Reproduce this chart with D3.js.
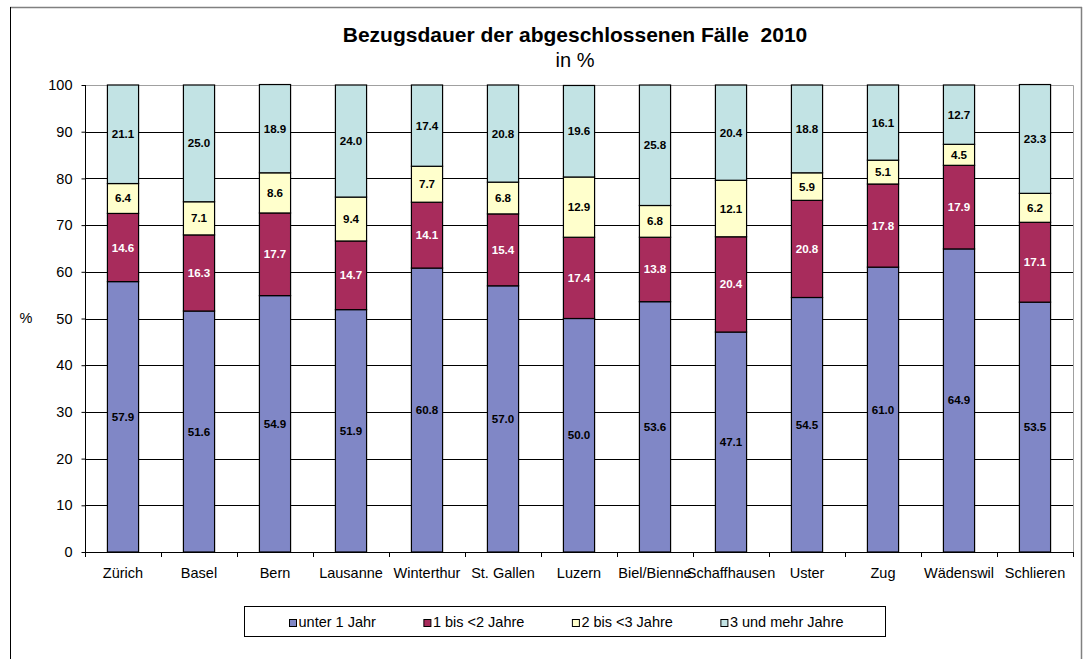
<!DOCTYPE html>
<html>
<head>
<meta charset="utf-8">
<script src="https://cdn.jsdelivr.net/npm/d3@7"></script>
<style>
body { margin: 0; background: #fff; }
svg { font-family: "Liberation Sans", Arial, sans-serif; }
</style>
</head>
<body>
<div id="chart"></div>
<script>
var cities = ["Zürich", "Basel", "Bern", "Lausanne", "Winterthur", "St. Gallen", "Luzern", "Biel/Bienne", "Schaffhausen", "Uster", "Zug", "Wädenswil", "Schlieren"];
var unter1 = [57.9, 51.6, 54.9, 51.9, 60.8, 57.0, 50.0, 53.6, 47.1, 54.5, 61.0, 64.9, 53.5];
var bis2 = [14.6, 16.3, 17.7, 14.7, 14.1, 15.4, 17.4, 13.8, 20.4, 20.8, 17.8, 17.9, 17.1];
var bis3 = [6.4, 7.1, 8.6, 9.4, 7.7, 6.8, 12.9, 6.8, 12.1, 5.9, 5.1, 4.5, 6.2];
var mehr3 = [21.1, 25.0, 18.9, 24.0, 17.4, 20.8, 19.6, 25.8, 20.4, 18.8, 16.1, 12.7, 23.3];
var seriesNames = ["unter 1 Jahr", "1 bis <2 Jahre", "2 bis <3 Jahre", "3 und mehr Jahre"];
var colors = ["#8087c6", "#a82c5c", "#ffffcc", "#c2e3e4"];
var textColors = ["#000", "#fff", "#000", "#000"];
var yTicks = [0, 10, 20, 30, 40, 50, 60, 70, 80, 90, 100];

var w = 1088, h = 659;
var svg = d3.select("#chart").append("svg").attr("width", w).attr("height", h);

// outer frame
svg.append("line").attr("x1", 10).attr("x2", 1082).attr("y1", 7.5).attr("y2", 7.5).attr("stroke", "#808080").attr("stroke-width", 1.5);
svg.append("line").attr("x1", 10.5).attr("x2", 10.5).attr("y1", 7).attr("y2", h).attr("stroke", "#000");
svg.append("line").attr("x1", 1081.5).attr("x2", 1081.5).attr("y1", 7).attr("y2", h).attr("stroke", "#808080").attr("stroke-width", 1.5);

var pLeft = 85, pRight = 1073, pTop = 85, pBottom = 552;

var x = d3.scaleBand().domain(cities).range([pLeft, pRight]).paddingInner(0.59).paddingOuter(0.295);
var xb = d3.scaleBand().domain(cities).range([pLeft, pRight]);
var y = d3.scaleLinear().domain([0, 100]).range([pBottom, pTop]);

// gridlines
svg.append("g").selectAll("line").data(yTicks.slice(1, -1)).enter().append("line")
  .attr("x1", pLeft).attr("x2", pRight)
  .attr("y1", function(d) { return Math.round(y(d)) + 0.5; })
  .attr("y2", function(d) { return Math.round(y(d)) + 0.5; })
  .attr("stroke", "#000").attr("stroke-width", 1);

// plot area border (top & right)
svg.append("path").attr("d", "M" + pLeft + "," + (pTop + 0.5) + "H" + (pRight + 0.5) + "V" + pBottom)
  .attr("fill", "none").attr("stroke", "#a0a0a0");

// stacked bars
var rows = cities.map(function(c, i) {
  return { city: c, unter1: unter1[i], bis2: bis2[i], bis3: bis3[i], mehr3: mehr3[i] };
});
var keys = ["unter1", "bis2", "bis3", "mehr3"];
var stacked = d3.stack().keys(keys)(rows);

var layers = svg.append("g").selectAll("g").data(stacked).enter().append("g")
  .attr("fill", function(d, i) { return colors[i]; });

layers.selectAll("rect").data(function(d) { return d; }).enter().append("rect")
  .attr("x", function(d) { return x(d.data.city); })
  .attr("width", x.bandwidth())
  .attr("y", function(d) { return y(d[1]); })
  .attr("height", function(d) { return y(d[0]) - y(d[1]); })
  .attr("stroke", "#000").attr("stroke-width", 1.2);

layers.each(function(s, si) {
  d3.select(this).selectAll("text").data(s).enter().append("text")
    .attr("x", function(d) { return x(d.data.city) + x.bandwidth() / 2; })
    .attr("y", function(d) { return (y(d[0]) + y(d[1])) / 2 + 4; })
    .attr("text-anchor", "middle")
    .attr("font-size", "11.6px").attr("font-weight", "bold")
    .attr("fill", textColors[si])
    .text(function(d) { return (d[1] - d[0]).toFixed(1); });
});

// y axis
var yAxis = svg.append("g").attr("transform", "translate(" + (pLeft + 0.5) + ",0)")
  .call(d3.axisLeft(y).tickValues(yTicks).tickSize(4).tickPadding(9));
yAxis.select(".domain").attr("stroke", "#000").attr("d", "M0," + pTop + "V" + pBottom);
yAxis.selectAll("text").attr("font-size", "14.5px").attr("fill", "#000").attr("font-family", "'Liberation Sans', Arial, sans-serif");

// x axis
var xAxis = svg.append("g").attr("transform", "translate(0," + (pBottom + 0.5) + ")")
  .call(d3.axisBottom(xb).tickSize(0).tickPadding(15));
xAxis.select(".domain").attr("stroke", "#000").attr("d", "M" + pLeft + ",0H" + pRight);
xAxis.selectAll("text").attr("font-size", "14.5px").attr("fill", "#000").attr("font-family", "'Liberation Sans', Arial, sans-serif");
svg.append("g").selectAll("line").data(d3.range(cities.length + 1)).enter().append("line")
  .attr("x1", function(i) { return Math.round(pLeft + i * xb.step()) + 0.5; })
  .attr("x2", function(i) { return Math.round(pLeft + i * xb.step()) + 0.5; })
  .attr("y1", pBottom).attr("y2", pBottom + 5).attr("stroke", "#000");

// y label
svg.append("text").attr("x", 26).attr("y", 323).attr("text-anchor", "middle")
  .attr("font-size", "14.5px").text("%");

// title
svg.append("text").attr("x", 575).attr("y", 42).attr("text-anchor", "middle")
  .attr("font-size", "21px").attr("font-weight", "bold").attr("xml:space", "preserve")
  .text("Bezugsdauer der abgeschlossenen Fälle  2010");
svg.append("text").attr("x", 575).attr("y", 67).attr("text-anchor", "middle")
  .attr("font-size", "20px").text("in %");

// legend
svg.append("rect").attr("x", 244.5).attr("y", 606.5).attr("width", 641).attr("height", 30)
  .attr("fill", "#fff").attr("stroke", "#000");
var leg = svg.append("g").selectAll("g").data(seriesNames).enter().append("g");
leg.append("rect").attr("x", 0).attr("y", -7).attr("width", 7).attr("height", 7)
  .attr("fill", function(d, i) { return colors[i]; }).attr("stroke", "#000");
leg.append("text").attr("x", 9).attr("y", 0).attr("font-size", "14.5px").text(function(d) { return d; });
var lx = 289.5;
leg.each(function() {
  d3.select(this).attr("transform", "translate(" + lx + ",626.5)");
  lx += 9 + d3.select(this).select("text").node().getComputedTextLength() + 48;
});
</script>
</body>
</html>
